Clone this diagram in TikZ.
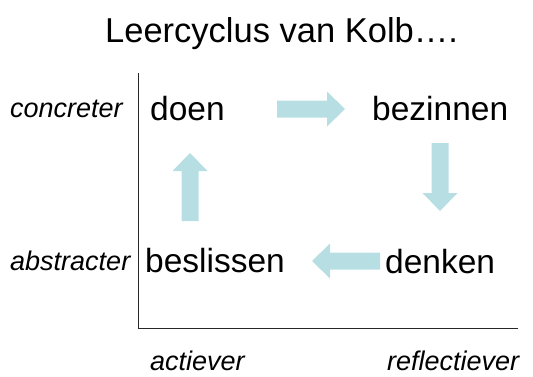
\documentclass[tikz,border=0pt]{standalone}
\usepackage{fontspec}
\setmainfont{Liberation Sans}
\definecolor{arrowteal}{RGB}{183,223,227}
\tikzset{
  x=1pt, y=-1pt,
  title/.style={anchor=base west, inner sep=0pt, font=\fontsize{34.5}{40}\selectfont},
  stage/.style={anchor=base west, inner sep=0pt, font=\fontsize{33.5}{40}\selectfont},
  axislabel/.style={anchor=base west, inner sep=0pt, font=\fontsize{27}{32}\selectfont\itshape},
  axis/.style={draw=black!85, line width=0.9pt},
  blockarrow/.pic={
    \fill[arrowteal] (0,-8.5) -- (50,-8.5) -- (50,-17.5) -- (68,0)
      -- (50,17.5) -- (50,8.5) -- (0,8.5) -- cycle;
  }
}
\begin{document}
\begin{tikzpicture}
  \useasboundingbox (0,0) rectangle (533,376);

  % title
  \node[title] (title) at (105,42) {Leercyclus van Kolb….};

  % axes
  \coordinate (top) at (138,73);
  \coordinate (origin) at (138,328);
  \coordinate (right) at (518,328);
  \draw[axis] (top) -- (origin) -- (right);

  % axis labels
  \node[axislabel] (concreter) at (10,117) {concreter};
  \node[axislabel] (abstracter) at (10,270) {abstracter};
  \node[axislabel, text depth=0pt] (actiever) at (150,370.5) {actiever};
  \node[axislabel, text depth=0pt] (reflectiever) at (387,370.5) {reflectiever};

  % the four stages
  \node[stage] (doen) at (150,120) {doen};
  \node[stage] (bezinnen) at (372,120) {bezinnen};
  \node[stage] (denken) at (385,273) {denken};
  \node[stage] (beslissen) at (145,272) {beslissen};

  % block arrows of the cycle
  \pic at (277,109) {blockarrow};
  \pic[rotate=-90] at (440,143) {blockarrow};
  \pic[rotate=180] at (380,261) {blockarrow};
  \pic[rotate=90] at (190,221) {blockarrow};
\end{tikzpicture}
\end{document}
